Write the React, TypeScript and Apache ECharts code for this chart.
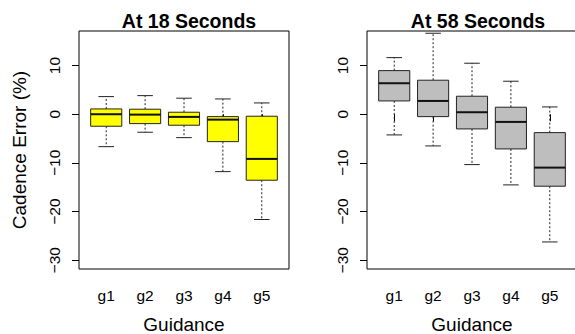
import React, { useEffect, useRef } from "react";
import * as echarts from "echarts";

const categories = ["g1", "g2", "g3", "g4", "g5"];
const yTicks = [-30, -20, -10, 0, 10];
const xTicks = [1, 2, 3, 4, 5];
// [min, Q1, median, Q3, max]
const at18 = [
  [-6.66, -2.47, 0.0, 1.09, 3.62],
  [-3.7, -1.93, -0.08, 1.03, 3.82],
  [-4.81, -2.26, -0.55, 0.41, 3.29],
  [-11.79, -5.63, -1.11, -0.49, 3.14],
  [-21.63, -13.56, -9.18, -0.41, 2.32],
];
const at58 = [
  [-4.25, 2.73, 6.37, 8.96, 11.63],
  [-6.51, -0.49, 2.73, 6.99, 16.64],
  [-10.35, -3.02, 0.41, 3.7, 10.48],
  [-14.52, -7.13, -1.58, 1.44, 6.78],
  [-26.24, -14.79, -10.97, -3.78, 1.5],
];
const titles = ["At 18 Seconds", "At 58 Seconds"];
const xName = "Guidance";
const yName = "Cadence Error (%)";

const FONT = "'Liberation Sans', Arial, Helvetica, sans-serif";

function renderBox(color: string) {
  return (params: any, api: any) => {
    const x = api.value(0);
    const mn = api.value(1), q1 = api.value(2), md = api.value(3), q3 = api.value(4), mx = api.value(5);
    const boxW = api.size([0.8, 0])[0];
    const capW = api.size([0.4, 0])[0];
    const pMax = api.coord([x, mx]);
    const pQ3 = api.coord([x, q3]);
    const pMd = api.coord([x, md]);
    const pQ1 = api.coord([x, q1]);
    const pMin = api.coord([x, mn]);
    const cx = pMax[0];
    const dash = { stroke: "#222", lineWidth: 1, lineDash: [2, 2] };
    const solid = { stroke: "#222", lineWidth: 1 };
    return {
      type: "group",
      children: [
        { type: "line", shape: { x1: cx, y1: pQ3[1], x2: cx, y2: pMax[1] }, style: dash },
        { type: "line", shape: { x1: cx, y1: pQ1[1], x2: cx, y2: pMin[1] }, style: dash },
        { type: "line", shape: { x1: cx - capW / 2, y1: pMax[1], x2: cx + capW / 2, y2: pMax[1] }, style: solid },
        { type: "line", shape: { x1: cx - capW / 2, y1: pMin[1], x2: cx + capW / 2, y2: pMin[1] }, style: solid },
        {
          type: "rect",
          shape: { x: cx - boxW / 2, y: pQ3[1], width: boxW, height: pQ1[1] - pQ3[1] },
          style: { fill: color, stroke: "#222", lineWidth: 1 },
        },
        { type: "line", shape: { x1: cx - boxW / 2, y1: pMd[1], x2: cx + boxW / 2, y2: pMd[1] }, style: { stroke: "#111", lineWidth: 2 } },
      ],
    };
  };
}

function toData(arr: number[][]) {
  return arr.map((r, i) => [xTicks[i], ...r]);
}

export default function App() {
  const ref = useRef<HTMLDivElement>(null);
  useEffect(() => {
    if (!ref.current) return;
    const chart = echarts.init(ref.current, null, { renderer: "svg" });
    const grids = [
      { left: 79, top: 31, width: 210, height: 238 },
      { left: 367, top: 31, width: 210, height: 238 },
    ];
    const xAxis = grids.map((_, i) => ({
      type: "value",
      gridIndex: i,
      min: 0.3,
      max: 5.7,
      axisLine: { show: false },
      splitLine: { show: false },
      axisTick: { show: true, length: 7, customValues: xTicks, lineStyle: { color: "#000" } },
      axisLabel: {
        customValues: xTicks,
        formatter: (v: number) => categories[Math.round(v) - 1],
        color: "#000",
        fontSize: 15.5,
        fontFamily: FONT,
        margin: 18,
      },
      name: xName,
      nameLocation: "middle",
      nameGap: 46,
      nameTextStyle: { color: "#000", fontSize: 19, fontFamily: FONT },
    }));
    const yAxis = grids.map((_, i) => ({
      type: "value",
      gridIndex: i,
      min: -31.8,
      max: 17.1,
      axisLine: { show: false },
      splitLine: { show: false },
      axisTick: { show: true, length: 7, customValues: yTicks, lineStyle: { color: "#000" } },
      axisLabel: {
        customValues: yTicks,
        rotate: 90,
        formatter: (v: number) => (v < 0 ? "\u2212" + Math.abs(v) : String(v)),
        color: "#000",
        fontSize: 15.5,
        fontFamily: FONT,
        margin: 17,
      },
      name: i === 0 ? yName : "",
      nameLocation: "middle",
      nameGap: 50,
      nameTextStyle: { color: "#000", fontSize: 19, fontFamily: FONT },
    }));
    chart.setOption({
      animation: false,
      backgroundColor: "#fff",
      title: titles.map((t, i) => ({
        text: t,
        left: i === 0 ? 184 : 473,
        textAlign: "center",
        top: 6,
        textStyle: { fontSize: 19.5, fontWeight: "bold", color: "#000", fontFamily: FONT },
      })),
      grid: grids.map((g) => ({
        ...g,
        outerBoundsMode: "none",
        containLabel: false,
        show: true,
        borderColor: "#000",
        borderWidth: 1,
        backgroundColor: "transparent",
      })),
      xAxis,
      yAxis,
      series: [
        {
          type: "custom",
          xAxisIndex: 0,
          yAxisIndex: 0,
          renderItem: renderBox("#FFFF00"),
          encode: { x: 0, y: [1, 2, 3, 4, 5] },
          data: toData(at18),
        },
        {
          type: "custom",
          xAxisIndex: 1,
          yAxisIndex: 1,
          renderItem: renderBox("#BEBEBE"),
          encode: { x: 0, y: [1, 2, 3, 4, 5] },
          data: toData(at58),
        },
      ],
    });
    return () => chart.dispose();
  }, []);
  return (
    <div
      ref={ref}
      style={{ position: "absolute", left: 0, top: 0, width: 575, height: 334 }}
    />
  );
}
